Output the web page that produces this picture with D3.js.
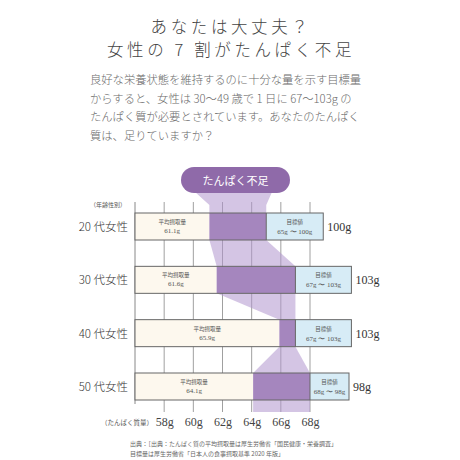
<!DOCTYPE html>
<html><head><meta charset="utf-8">
<script src="https://cdn.jsdelivr.net/npm/d3@7"></script>
<style>
html,body{margin:0;padding:0;background:#fff;}
svg{display:block;}
</style></head>
<body>
<svg id="c" width="460" height="460"></svg>
<script>
// ---- data ----
const titleLines = ["あなたは大丈夫？", "女性の 7 割がたんぱく不足"];
const bodyLines = [
  "良好な栄養状態を維持するのに十分な量を示す目標量",
  "からすると、女性は 30〜49 歳で 1 日に 67〜103g の",
  "たんぱく質が必要とされています。あなたのたんぱく",
  "質は、足りていますか？"
];
const ages = ["20 代女性", "30 代女性", "40 代女性", "50 代女性"];
const intake = [61.1, 61.6, 65.9, 64.1];
const targetLow = [65, 67, 67, 68];
const targetHigh = [100, 103, 103, 98];
const tickValues = [58, 60, 62, 64, 66, 68];
const footLines = [
  "出典：［出典：たんぱく質の平均摂取量は厚生労働省「国民健康・栄養調査」",
  "目標量は厚生労働省「日本人の食事摂取基準 2020 年版」"
];

// ---- layout ----
const JP = "'Noto Sans CJK JP','Noto Sans',sans-serif";
const SERIF = "'Liberation Serif','DejaVu Serif',serif";
const boxW = [57, 56, 56, 39];
const barH = 27;
const svg = d3.select("#c");

const x = d3.scaleLinear().domain([56, 68]).range([135, 310]);
const y = d3.scalePoint().domain(ages).range([213, 373]);

// title
svg.selectAll("text.title").data(titleLines).join("text")
  .attr("x", 231).attr("y", (d, i) => 33 + i * 23)
  .attr("text-anchor", "middle")
  .attr("font-family", JP).attr("font-size", 16.5).attr("font-weight", 300)
  .attr("letter-spacing", 3.6)
  .attr("fill", "#444").text(d => d);

// body
svg.selectAll("text.body").data(bodyLines).join("text")
  .attr("x", 90).attr("y", (d, i) => 84 + i * 18.5)
  .attr("font-family", JP).attr("font-size", 11.3).attr("font-weight", 300)
  .attr("fill", "#6a6a6a").text(d => d);

// grid
const gTop = 202, gBot = 412;
svg.append("line").attr("x1", x(56)).attr("x2", x(56)).attr("y1", gTop).attr("y2", 404)
  .attr("stroke", "#888").attr("stroke-width", 1);
svg.selectAll("line.grid").data(tickValues).join("line")
  .attr("x1", d => x(d)).attr("x2", d => x(d))
  .attr("y1", gTop).attr("y2", gBot)
  .attr("stroke", "#888").attr("stroke-width", 0.8);

// connectors (light purple)
const light = "rgba(176,150,205,0.55)";
const x0a = x(intake[0]), x0b = x(targetLow[0]);
svg.append("polygon")
  .attr("points", [[195, 192], [272, 192], [x0b, 205], [x0b, y(ages[0])], [x0a, y(ages[0])], [x0a, 205]].join(" "))
  .attr("fill", light);
for (let i = 0; i < ages.length - 1; i++) {
  const b = y(ages[i]) + barH, t = y(ages[i + 1]);
  svg.append("polygon")
    .attr("points", [[x(intake[i]), b], [x(targetLow[i]), b], [x(targetLow[i + 1]), t], [x(intake[i + 1]), t]].join(" "))
    .attr("fill", light);
}
const last = ages.length - 1;
svg.append("rect")
  .attr("x", x(intake[last])).attr("y", y(ages[last]) + barH)
  .attr("width", x(targetLow[last]) - x(intake[last])).attr("height", gBot - y(ages[last]) - barH)
  .attr("fill", light);

// pill
svg.append("rect").attr("x", 181).attr("y", 167).attr("width", 109).attr("height", 26)
  .attr("rx", 13).attr("fill", "#8f6aa9");
svg.append("text").attr("x", 235.5).attr("y", 184.5).attr("text-anchor", "middle")
  .attr("font-family", JP).attr("font-size", 11).attr("fill", "#fff").text("たんぱく不足");

// bars
const rows = svg.selectAll("g.row").data(ages).join("g").attr("class", "row");
rows.each(function (age, i) {
  const g = d3.select(this);
  const top = y(age);
  const xs = x(56), xi = x(intake[i]), xl = x(targetLow[i]), xe = xl + boxW[i];
  g.append("rect").attr("x", xs).attr("y", top).attr("width", xi - xs).attr("height", barH)
    .attr("fill", "#fdf8ee");
  g.append("rect").attr("x", xi).attr("y", top).attr("width", xl - xi).attr("height", barH)
    .attr("fill", "#a586be");
  g.append("rect").attr("x", xl).attr("y", top).attr("width", xe - xl).attr("height", barH)
    .attr("fill", "#d7ecf6");
  g.append("rect").attr("x", xs).attr("y", top).attr("width", xe - xs).attr("height", barH)
    .attr("fill", "none").attr("stroke", "#666").attr("stroke-width", 1);
  g.append("line").attr("x1", xl).attr("x2", xl).attr("y1", top).attr("y2", top + barH)
    .attr("stroke", "#666").attr("stroke-width", 1);
  const cx = (xs + xi) / 2;
  g.append("text").attr("x", cx).attr("y", top + 11).attr("text-anchor", "middle")
    .attr("font-family", JP).attr("font-size", 5.5).attr("fill", "#555").text("平均摂取量");
  g.append("text").attr("x", cx).attr("y", top + 20).attr("text-anchor", "middle")
    .attr("font-family", SERIF).attr("font-size", 7).attr("fill", "#555").text(intake[i] + "g");
  const tx = (xl + xe) / 2;
  g.append("text").attr("x", tx).attr("y", top + 11).attr("text-anchor", "middle")
    .attr("font-family", JP).attr("font-size", 5.5).attr("fill", "#555").text("目標値");
  g.append("text").attr("x", tx).attr("y", top + 21).attr("text-anchor", "middle")
    .attr("font-family", SERIF).attr("font-size", 7).attr("fill", "#555")
    .text(targetLow[i] + "g 〜 " + targetHigh[i] + "g");
  g.append("text").attr("x", xe + 4).attr("y", top + 18).attr("font-family", SERIF)
    .attr("font-size", 12).attr("fill", "#333").text(targetHigh[i] + "g");
  g.append("text").attr("x", 128).attr("y", top + 18).attr("text-anchor", "end")
    .attr("font-family", JP).attr("font-size", 11.5).attr("font-weight", 300)
    .attr("fill", "#333").text(age);
});

// axis titles
svg.append("text").attr("x", 108).attr("y", 207).attr("text-anchor", "middle")
  .attr("font-family", JP).attr("font-size", 6).attr("fill", "#555").text("（年齢性別）");
svg.append("text").attr("x", 127).attr("y", 425).attr("text-anchor", "middle")
  .attr("font-family", JP).attr("font-size", 6.5).attr("fill", "#555").text("（たんぱく質量）");

// x axis labels
const axis = d3.axisBottom(x).tickValues(tickValues).tickFormat(d => d + "g").tickSize(0).tickPadding(0);
const ga = svg.append("g").attr("transform", "translate(0,417)").call(axis);
ga.select(".domain").remove();
ga.selectAll("text").attr("font-family", SERIF).attr("font-size", 12).attr("fill", "#444");

// footer
svg.selectAll("text.foot").data(footLines).join("text")
  .attr("x", 130).attr("y", (d, i) => 446 + i * 10)
  .attr("font-family", JP).attr("font-size", 6).attr("fill", "#666").text(d => d);
</script>
</body></html>
